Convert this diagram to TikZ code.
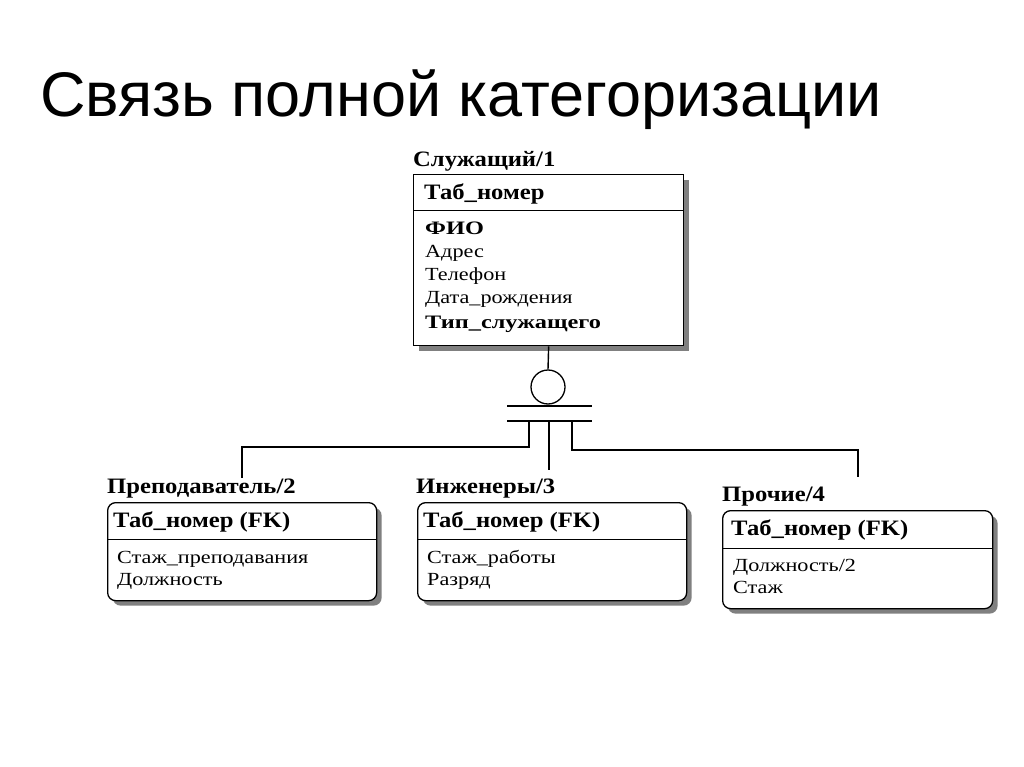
\documentclass[tikz,border=0pt]{standalone}
\usepackage{fontspec}
\setmainfont{Liberation Serif}
\newfontfamily\titlefont{Liberation Sans}
\newfontfamily\hfont[FakeStretch=1.12]{Liberation Serif}
\newfontfamily\afont[FakeStretch=1.2]{Liberation Serif}
\newfontfamily\bafont[FakeStretch=1.28]{Liberation Serif}
\usetikzlibrary{shadows}
\begin{document}
\begin{tikzpicture}[x=1pt,y=-1pt,
  ent/.style={draw, line width=1.3pt, fill=white, inner sep=0pt, anchor=north west,
    drop shadow={shadow xshift=5pt, shadow yshift=-5pt, fill=black!50, opacity=1}},
  rent/.style={ent, rounded corners=8pt},
  sep/.style={line width=1pt},
  conn/.style={line width=1.4pt},
  hdr/.style={anchor=base west, inner sep=0pt, font=\hfont\bfseries\fontsize{22}{22}\selectfont},
  keyt/.style={anchor=base west, inner sep=0pt, font=\hfont\bfseries\fontsize{22}{22}\selectfont},
  att/.style={anchor=base west, inner sep=0pt, font=\afont\fontsize{18.5}{18.5}\selectfont},
  batt/.style={anchor=base west, inner sep=0pt, font=\bafont\bfseries\fontsize{19}{19}\selectfont}]
\useasboundingbox (0,0) rectangle (1024,767);
\fill[white] (0,0) rectangle (1024,767);

% title
\node[anchor=base west, inner sep=0pt, font=\titlefont\fontsize{63}{63}\selectfont] (title) at (40,117) {Связь полной категоризации};

% main entity
\node[hdr] (empL) at (413,167) {Служащий/1};
\node[ent, minimum width=270pt, minimum height=171pt] (emp) at (413,174) {};
\draw[sep] (413,211) -- (683,211);
\node[keyt] (empK) at (424,200) {Таб\_номер};
\node[batt] (a1) at (425,235) {ФИО};
\node[att] (a2) at (425,257) {Адрес};
\node[att] (a3) at (425,280) {Телефон};
\node[att] (a4) at (425,303) {Дата\_рождения};
\node[batt] (a5) at (425,328) {Тип\_служащего};

% category symbol
\node[draw, circle, line width=1.3pt, minimum size=34pt, inner sep=0pt] (cat) at (548,387) {};
\draw[conn] (emp.south) -- (cat.north);
\coordinate (l1a) at (507,406); \coordinate (l1b) at (592,406);
\coordinate (l2a) at (507,421); \coordinate (l2b) at (592,421);
\draw[conn] (l1a) -- (l1b);
\draw[conn] (l2a) -- (l2b);

% sub entities
\node[hdr] (preL) at (107,493) {Преподаватель/2};
\node[rent, minimum width=269pt, minimum height=98pt] (pre) at (107,502) {};
\draw[sep] (107,539) -- (376,539);
\node[keyt] (preK) at (113,527) {Таб\_номер (FK)};
\node[att] (p1) at (117,563) {Стаж\_преподавания};
\node[att] (p2) at (117,585) {Должность};

\node[hdr] (engL) at (416,493) {Инженеры/3};
\node[rent, minimum width=269pt, minimum height=98pt] (eng) at (417,502) {};
\draw[sep] (417,539) -- (686,539);
\node[keyt] (engK) at (423,527) {Таб\_номер (FK)};
\node[att] (e1) at (427,563) {Стаж\_работы};
\node[att] (e2) at (427,585) {Разряд};

\node[hdr] (othL) at (722,501) {Прочие/4};
\node[rent, minimum width=270pt, minimum height=98pt] (oth) at (722,510) {};
\draw[sep] (722,548) -- (992,548);
\node[keyt] (othK) at (731,535) {Таб\_номер (FK)};
\node[att] (o1) at (733,571) {Должность/2};
\node[att] (o2) at (733,593) {Стаж};

% connectors
\coordinate (d1) at (529,421);
\coordinate (d2) at (549,421);
\coordinate (d3) at (572,421);
\coordinate (t1) at (242,478);
\coordinate (t2) at (549,470);
\coordinate (t3) at (858,477);
\draw[conn] (d1) -- (529,447) -| (t1);
\draw[conn] (d2) -- (t2);
\draw[conn] (d3) -- (572,450) -| (t3);
\end{tikzpicture}
\end{document}
